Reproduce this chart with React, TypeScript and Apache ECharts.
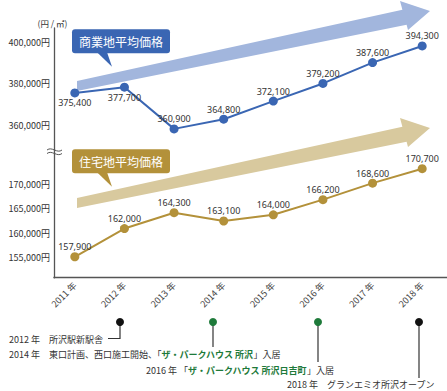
import React, { useEffect, useRef } from 'react';
import * as echarts from 'echarts';

// ---- data ----
const years = ['2011 年', '2012 年', '2013 年', '2014 年', '2015 年', '2016 年', '2017 年', '2018 年'];
const commercial = [375400, 377700, 360900, 364800, 372100, 379200, 387600, 394300];
const residential = [157900, 162000, 164300, 163100, 164000, 166200, 168600, 170700];
const commercialTicks = [360000, 380000, 400000];
const residentialTicks = [155000, 160000, 165000, 170000];
const belowLabelYears = ['2011 年', '2012 年'];
const commercialName = '商業地平均価格';
const residentialName = '住宅地平均価格';
const unitLabel = '(円 / ㎡)';
const events = [
  '2012 年　所沢駅新駅舎',
  '2014 年　東口計画、西口施工開始、「{g|ザ・パークハウス 所沢}」入居',
  '2016 年 「{g|ザ・パークハウス 所沢日吉町}」入居',
  '2018 年　グランエミオ所沢オープン',
];

const CJK = "'Noto Sans CJK JP', 'Noto Sans', sans-serif";
const NUM = "'Noto Sans', 'Noto Sans CJK JP', sans-serif";
const BLUE = '#3a66b3';
const GOLD = '#b3913a';
const GREEN = '#1e7a3a';
const AXIS = '#555';

const fmt = (v: number) => v.toLocaleString('en-US');

export default function App() {
  const ref = useRef<HTMLDivElement>(null);
  useEffect(() => {
    if (!ref.current) return;
    const chart = echarts.init(ref.current, undefined, { renderer: 'svg' });

    const labelStyle = { show: true, fontSize: 9, color: '#333', fontFamily: NUM, distance: 1, formatter: (p: any) => fmt(p.value) };
    const yLabel = (ticks: number[]) => ({
      fontSize: 9, color: '#333', fontFamily: CJK, margin: 4,
      formatter: (v: number) => (ticks.includes(v) ? fmt(v) + '円' : ''),
    });

    const arrow = (dy: number) =>
      [[77, 81], [402.4, 9.8], [400, 1], [430, 11], [408, 30], [406.6, 24.8], [77, 91]].map(([x, y]) => [x, y + dy]);

    const callout = (y: number, color: string, text: string) => [
      { type: 'rect', z: 20, shape: { x: 72, y, width: 98, height: 24, r: 3 }, style: { fill: color } },
      { type: 'polygon', z: 20, shape: { points: [[97, y + 23], [107, y + 23], [112, y + 37.5]] }, style: { fill: color } },
      {
        type: 'text', z: 21, x: 121, y: y + 12.3,
        style: { text, fill: '#fff', fontSize: 12, fontFamily: CJK, align: 'center', verticalAlign: 'middle', textAlign: 'center', textVerticalAlign: 'middle' },
      },
    ];

    const evText = (x: number, y: number, text: string) => ({
      type: 'text', z: 20, x, y,
      style: {
        text, fill: '#333', fontSize: 9, fontFamily: CJK, verticalAlign: 'middle', textVerticalAlign: 'middle',
        rich: { g: { fill: GREEN, fontWeight: 'bold', fontSize: 9, fontFamily: CJK } },
      },
    });
    const dot = (x: number, color: string) => ({ type: 'circle', z: 20, shape: { cx: x, cy: 322, r: 4 }, style: { fill: color } });
    const stem = (pts: number[][]) => ({ type: 'polyline', z: 19, shape: { points: pts }, style: { stroke: '#333', lineWidth: 1.2, fill: null } });

    chart.setOption({
      animation: false,
      grid: [
        { left: 50, width: 401, top: 28, height: 122 },
        { left: 50, width: 401, top: 150, height: 127.73 },
      ],
      xAxis: [
        { type: 'category', gridIndex: 0, data: years, show: false },
        {
          type: 'category', gridIndex: 1, data: years,
          axisLine: { onZero: false, lineStyle: { color: AXIS, width: 1.3 } },
          axisTick: { show: false },
          axisLabel: { rotate: 45, fontSize: 9, color: '#444', fontFamily: CJK, margin: 6 },
        },
      ],
      yAxis: [
        {
          type: 'value', gridIndex: 0, min: 348000, max: 406795, interval: 4000, offset: -4,
          axisLine: { show: true, lineStyle: { color: AXIS, width: 1.3 } },
          axisTick: { show: false }, splitLine: { show: false },
          axisLabel: yLabel(commercialTicks),
        },
        { type: 'value', gridIndex: 0, min: 352390, max: 401540, show: false, splitLine: { show: false } },
        {
          type: 'value', gridIndex: 1, min: 151000, max: 176893, interval: 1000, offset: -4,
          axisLine: { show: true, lineStyle: { color: AXIS, width: 1.3 } },
          axisTick: { show: false }, splitLine: { show: false },
          axisLabel: yLabel(residentialTicks),
        },
        { type: 'value', gridIndex: 1, min: 154852, max: 173417, show: false, splitLine: { show: false } },
      ],
      series: [
        {
          type: 'line', name: commercialName, xAxisIndex: 0, yAxisIndex: 1, z: 10,
          data: commercial.map((v, i) => ({ value: v, label: { position: belowLabelYears.includes(years[i]) ? 'bottom' : 'top' } })),
          symbol: 'circle', symbolSize: 9,
          lineStyle: { color: BLUE, width: 2 }, itemStyle: { color: BLUE },
          label: labelStyle,
        },
        {
          type: 'line', name: residentialName, xAxisIndex: 1, yAxisIndex: 3, z: 10,
          data: residential,
          symbol: 'circle', symbolSize: 9,
          lineStyle: { color: GOLD, width: 2 }, itemStyle: { color: GOLD },
          label: { ...labelStyle, position: 'top' },
        },
      ],
      graphic: [
        { type: 'polygon', z: 1, shape: { points: arrow(0) }, style: { fill: '#a2b6dd' } },
        { type: 'polygon', z: 1, shape: { points: arrow(117) }, style: { fill: '#d8c99e' } },
        ...callout(29.3, BLUE, commercialName),
        ...callout(149.3, GOLD, residentialName),
        {
          type: 'text', z: 20, x: 52.5, y: 22.5,
          style: { text: unitLabel, fill: '#333', fontSize: 8.5, fontFamily: CJK, align: 'center', verticalAlign: 'middle', textAlign: 'center', textVerticalAlign: 'middle' },
        },
        // axis break squiggle
        { type: 'rect', z: 20, shape: { x: 44, y: 275.5, width: 9.3, height: 5 }, style: { fill: '#fff' } },
        { type: 'bezierCurve', z: 20, shape: { x1: 47, y1: 150, x2: 62, y2: 150, cpx1: 52, cpy1: 146, cpx2: 57, cpy2: 154 }, style: { stroke: AXIS, lineWidth: 1, fill: null } },
        { type: 'bezierCurve', z: 20, shape: { x1: 47, y1: 153.5, x2: 62, y2: 153.5, cpx1: 52, cpy1: 149.5, cpx2: 57, cpy2: 157.5 }, style: { stroke: AXIS, lineWidth: 1, fill: null } },
        // timeline events
        stem([[120, 322], [120, 338.5], [108, 338.5]]),
        stem([[213, 322], [213, 347]]),
        stem([[318, 322], [318, 362]]),
        stem([[419, 322], [419, 378]]),
        dot(120, '#111'),
        dot(213, GREEN),
        dot(318, GREEN),
        dot(419, '#111'),
        evText(9, 339.5, events[0]),
        evText(9, 354.5, events[1]),
        evText(146, 370.5, events[2]),
        evText(287, 384, events[3]),
      ],
    });
    return () => chart.dispose();
  }, []);
  return <div ref={ref} style={{ position: 'fixed', left: 0, top: 0, width: 447, height: 391, background: '#fff' }} />;
}
